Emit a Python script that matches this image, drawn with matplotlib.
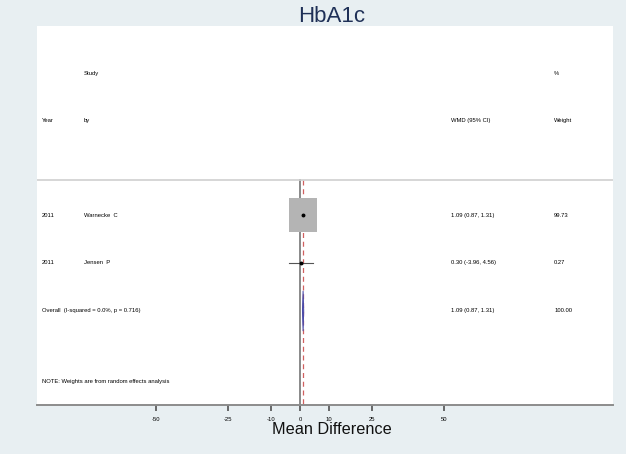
import matplotlib.pyplot as plt
from matplotlib.patches import Rectangle, Polygon
import matplotlib.transforms as mtransforms

plt.rcParams['font.family'] = ['Liberation Sans', 'DejaVu Sans']

# data
years = ["2011", "2011"]
authors = ["Warnecke  C", "Jensen  P"]
wmd = [1.09, 0.30]
ci_low = [0.87, -3.96]
ci_high = [1.31, 4.56]
weights = [99.73, 0.27]
wmd_labels = ["1.09 (0.87, 1.31)", "0.30 (-3.96, 4.56)"]
weight_labels = ["99.73", "0.27"]
overall = 1.09
overall_low = 0.87
overall_high = 1.31
overall_label = "Overall  (I-squared = 0.0%, p = 0.716)"
overall_ci_label = "1.09 (0.87, 1.31)"
overall_weight = "100.00"
xticks = [-50, -25, -10, 0, 10, 25, 50]

bg = '#e8eff2'
fig = plt.figure(figsize=(6.26, 4.54), dpi=100, facecolor=bg)
ax = fig.add_axes([37/626, 49/454, 576/626, 379/454])
ax.set_facecolor('white')

ax.set_xlim(-91.3, 108.7)
ax.set_ylim(3.96, -3.94)

for s in ['top', 'left', 'right']:
    ax.spines[s].set_visible(False)
ax.spines['bottom'].set_color('#8c8c8c')
ax.spines['bottom'].set_linewidth(1.4)
ax.set_yticks([])
ax.set_xticks(xticks)
ax.set_xticklabels([str(t) for t in xticks], fontsize=4.2)
ax.tick_params(axis='x', length=4.5, width=1.1, color='#444444', pad=4)

tr = mtransforms.blended_transform_factory(ax.transAxes, ax.transData)
fs = 4.2
col_year, col_study, col_ci, col_w = 0.009, 0.081, 0.719, 0.898

# headers
ax.text(col_study, -2.94, "Study", fontsize=fs, transform=tr, va='center')
ax.text(col_w, -2.94, "%", fontsize=fs, transform=tr, va='center')
ax.text(col_year, -1.96, "Year", fontsize=fs, transform=tr, va='center')
ax.text(col_study, -1.96, "by", fontsize=fs, transform=tr, va='center')
ax.text(col_ci, -1.96, "WMD (95% CI)", fontsize=fs, transform=tr, va='center')
ax.text(col_w, -1.96, "Weight", fontsize=fs, transform=tr, va='center')

ax.axhline(-0.73, color='#cfcfcf', lw=1.2)

# reference lines
ax.plot([0, 0], [-0.73, 3.96], color='#808080', lw=1.3, zorder=1)
ax.plot([overall, overall], [-0.73, 3.96], color='#d06060', lw=0.9,
        ls=(0, (4, 3)), zorder=1)

for i in range(len(years)):
    ax.text(col_year, i, years[i], fontsize=fs, transform=tr, va='center')
    ax.text(col_study, i, authors[i], fontsize=fs, transform=tr, va='center')
    ax.text(col_ci, i, wmd_labels[i], fontsize=fs, transform=tr, va='center')
    ax.text(col_w, i, weight_labels[i], fontsize=fs, transform=tr, va='center')
    sc = (weights[i] / 100) ** 0.5
    w = 9.7 * sc
    h = 0.69 * sc
    ax.add_patch(Rectangle((wmd[i] - w/2, i - h/2), w, h, facecolor='#b4b4b4',
                           edgecolor='none', zorder=2))
    ax.plot([ci_low[i], ci_high[i]], [i, i], color='#555555', lw=0.8, zorder=3)
    ax.plot(wmd[i], i, 'o', color='black', ms=1.8, zorder=4)

oy = len(years)
ax.text(col_year, oy, overall_label, fontsize=fs, transform=tr, va='center')
ax.text(col_ci, oy, overall_ci_label, fontsize=fs, transform=tr, va='center')
ax.text(col_w, oy, overall_weight, fontsize=fs, transform=tr, va='center')
dh = 0.42
ax.add_patch(Polygon([(overall_low, oy), (overall, oy - dh), (overall_high, oy),
                      (overall, oy + dh)], closed=True, facecolor='#4a4aa8',
                     edgecolor='#4a4aa8', lw=0.7, zorder=3))

ax.text(col_year, 3.46, "NOTE: Weights are from random effects analysis",
        fontsize=fs, transform=tr, va='center')

fig.text(332/626, 1 - 16/454, "HbA1c", fontsize=16, color='#1f3057',
         ha='center', va='center')
fig.text(332/626, 1 - 430/454, "Mean Difference", fontsize=11.7,
         color='#111111', ha='center', va='center')

fig.savefig('out.png', dpi=100, facecolor=bg)
